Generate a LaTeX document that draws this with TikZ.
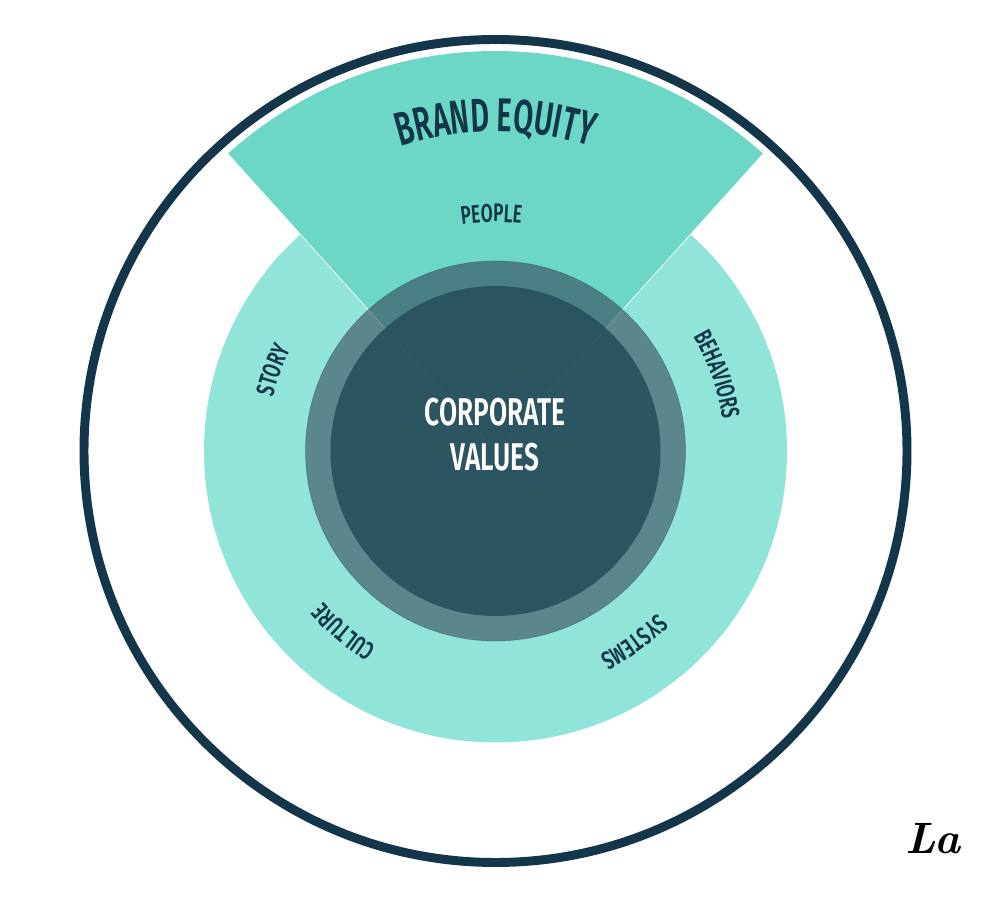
\documentclass[tikz,border=0pt]{standalone}
\usepackage{xcolor}
\usepackage{amsmath}
\usepackage{fontspec}
\usepackage{tikz}
\usetikzlibrary{decorations.text}
\newfontfamily\condfont[FakeStretch=0.68]{Fira Sans SemiBold}
\newfontfamily\titlefont[FakeStretch=0.61]{Fira Sans SemiBold}
\definecolor{navy}{HTML}{14364A}
\definecolor{wedge}{HTML}{6DD7C5}
\definecolor{disc}{HTML}{90E4D8}
\definecolor{ring}{RGB}{47,57,78}
\definecolor{core}{RGB}{33,73,88}

\begin{document}
\begin{tikzpicture}[
  x=0.02cm, y=0.02cm,
  ringfill/.style  = {fill=ring, fill opacity=0.55, draw=ring, draw opacity=0.35, line width=0.4pt},
  corefill/.style  = {fill=core, fill opacity=0.8},
  corelabel/.style = {align=center, text=white, font=\fontsize{22}{25.5}\selectfont\condfont},
  logolabel/.style = {font=\fontsize{25}{25}\selectfont\bfseries\itshape},
  arclabel/.style  = {decorate, decoration={text along path, text align=center,
                      text color=navy, text={|\fontsize{14.5}{16}\selectfont\condfont|#1}}},
  titlelabel/.style = {decorate, decoration={text along path, text align=center,
                      text color=navy, text={|\fontsize{27}{30}\selectfont\titlefont|#1}}},
]
  \useasboundingbox (-495.5,-450) rectangle (504.5,451);

  \coordinate (mid) at (0,0);
  \coordinate (wl) at (132:400);
  \coordinate (wr) at (48:400);

  \draw[navy, line width=5.1pt] (mid) circle (411.5);
  \fill[disc] (mid) circle (291.5);
  \fill[wedge] (mid) -- (wr) arc (48:132:400) -- cycle;
  \draw[white, line width=0.4pt] (mid) -- (wr);
  \draw[white, line width=0.4pt] (mid) -- (wl);
  \path[ringfill] (mid) circle (190);
  \path[corefill] (mid) circle (165);

  \node[corelabel] (values) at (-0.5,16.5) {CORPORATE\\VALUES};
  \node[logolabel] (logo) at (437.5,-388) {La};

  \path[titlelabel={BRAND EQUITY}] (115:319) arc (115:65:319);
  \path[arclabel={PEOPLE}] (111:229) arc (111:71:229);
  \path[arclabel={BEHAVIORS}] (49:229) arc (49:-11:229);
  \path[arclabel={SYSTEMS}] (-24:229) arc (-24:-84:229);
  \path[arclabel={CULTURE}] (-100:229) arc (-100:-160:229);
  \path[arclabel={STORY}] (190:229) arc (190:130:229);
\end{tikzpicture}
\end{document}
